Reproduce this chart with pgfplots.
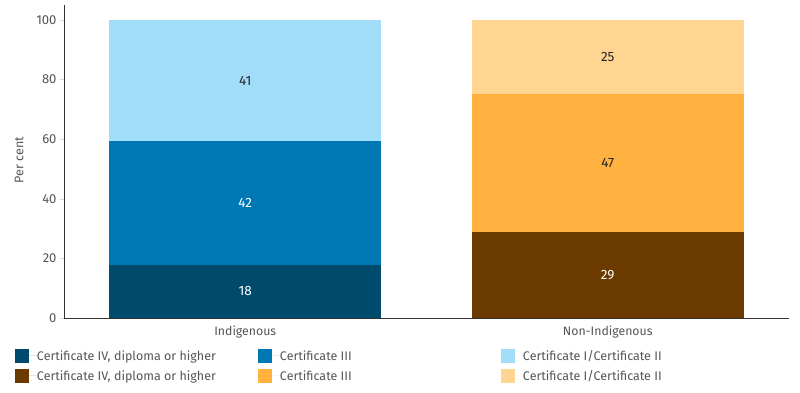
\documentclass[border=0pt]{standalone}
\usepackage{pgfplots}
\pgfplotsset{compat=1.18}
\usepackage{fontspec}
\setmainfont{Fira Sans}
\definecolor{iA}{HTML}{004A6C}
\definecolor{iB}{HTML}{0078B4}
\definecolor{iC}{HTML}{A1DDF9}
\definecolor{nA}{HTML}{6B3A00}
\definecolor{nB}{HTML}{FFB240}
\definecolor{nC}{HTML}{FFD591}
\definecolor{txt}{HTML}{555555}
\definecolor{axl}{HTML}{333333}
\begin{document}
\begin{tikzpicture}[x=1pt,y=1pt]
\path[use as bounding box] (0,0) rectangle (800,392);
\begin{axis}[
  at={(64pt,74pt)}, anchor=south west,
  scale only axis, width=725pt, height=313pt,
  ybar stacked, bar width=0.75,
  xmin=-0.5, xmax=1.5, ymin=0, ymax=105,
  axis lines*=left,
  axis line style={axl, line width=0.9pt},
  xtick={0,1}, xticklabels={Indigenous,Non-Indigenous},
  x tick label style={font=\fontsize{12.3}{14}\selectfont, text=txt},
  xtick style={draw=none},
  extra x ticks={0.5}, extra x tick labels={},
  extra x tick style={tick style={draw=gray!40, line width=0.5pt}, major tick length=5pt, tick align=outside},
  ytick={0,20,...,100},
  y tick label style={font=\fontsize{13}{15}\selectfont, text=txt},
  ytick style={draw=gray!30, line width=0.5pt},
  tick align=outside, major tick length=4pt,
  /pgf/number format/assume math mode=true,
  ylabel={Per cent},
  ylabel style={font=\fontsize{12.5}{14}\selectfont, text=txt, at={(axis description cs:-0.051,0.505)}},
  legend columns=3,
  legend cell align=left,
  legend image code/.code={\fill[#1,draw=none] (0pt,-7pt) rectangle (14pt,7pt);\path (0pt,0pt) -- (22pt,0pt);},
  legend style={at={(axis description cs:-0.0676,-0.099)}, anchor=north west,
    draw=none, fill=none, inner sep=0pt, outer sep=0pt,
    nodes={inner sep=0pt, text=txt},
    font=\fontsize{12.5}{14}\selectfont,
    row sep=6pt},
]
\addplot[fill=iA, draw=none] coordinates {(0,17.8) (1,0)};
\addlegendentry{\makebox[221pt][l]{Certificate IV, diploma or higher}}
\addplot[fill=iB, draw=none] coordinates {(0,41.6) (1,0)};
\addlegendentry{\makebox[221pt][l]{Certificate III}}
\addplot[fill=iC, draw=none] coordinates {(0,40.6) (1,0)};
\addlegendentry{\makebox[221pt][l]{Certificate I/Certificate II}}
\addplot[fill=nA, draw=none] coordinates {(0,0) (1,28.7)};
\addlegendentry{\makebox[221pt][l]{Certificate IV, diploma or higher}}
\addplot[fill=nB, draw=none] coordinates {(0,0) (1,46.6)};
\addlegendentry{\makebox[221pt][l]{Certificate III}}
\addplot[fill=nC, draw=none] coordinates {(0,0) (1,24.7)};
\addlegendentry{\makebox[221pt][l]{Certificate I/Certificate II}}
\end{axis}
\begin{axis}[
  at={(64pt,74pt)}, anchor=south west,
  scale only axis, width=725pt, height=313pt,
  xmin=-0.5, xmax=1.5, ymin=0, ymax=105,
  hide axis,
  nodes near coords, nodes near coords align=center,
  point meta=explicit symbolic,
  every node near coord/.append style={font=\fontsize{13.5}{15}\selectfont, anchor=center},
]
\addplot[draw=none, mark=none, every node near coord/.append style={text=white}]
  coordinates {(0,8.9) [18] (0,38.6) [42] (1,14.35) [29]};
\addplot[draw=none, mark=none, every node near coord/.append style={text=black!85}]
  coordinates {(0,79.7) [41] (1,52.0) [47] (1,87.65) [25]};
\end{axis}
\end{tikzpicture}
\end{document}
